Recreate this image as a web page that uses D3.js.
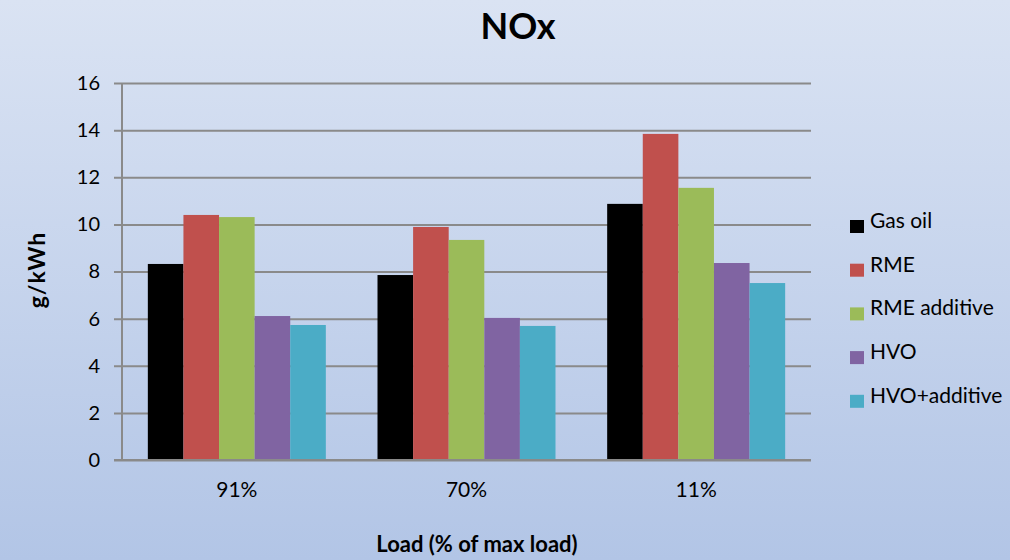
<!DOCTYPE html>
<html>
<head>
<meta charset="utf-8">
<script src="https://cdn.jsdelivr.net/npm/d3@7"></script>
<style>
  html, body { margin: 0; padding: 0; }
  body { width: 1010px; height: 560px; overflow: hidden; }
  text { font-family: Lato, "Open Sans", sans-serif; fill: #000; }
</style>
</head>
<body>
<svg id="chart" width="1010" height="560"></svg>
<script>
// Load levels (categories) and NOx emission per fuel, g/kWh
const loads = ["91%", "70%", "11%"];
const fuels = ["Gas oil", "RME", "RME additive", "HVO", "HVO+additive"];
const gasOil      = [8.32, 7.85, 10.87];
const rme         = [10.40, 9.89, 13.84];
const rmeAdditive = [10.31, 9.34, 11.55];
const hvo         = [6.11, 6.03, 8.36];
const hvoAdditive = [5.73, 5.69, 7.51];
const yTicks = [0, 2, 4, 6, 8, 10, 12, 14, 16];
const fuelColors = ["#000000", "#c0504d", "#9bbb59", "#8064a2", "#4bacc6"];

const seriesValues = [gasOil, rme, rmeAdditive, hvo, hvoAdditive];

const svg = d3.select("#chart");
const W = 1010, H = 560;

// Background gradient
const defs = svg.append("defs");
const grad = defs.append("linearGradient")
  .attr("id", "bg").attr("x1", 0).attr("y1", 0).attr("x2", 0).attr("y2", 1);
grad.append("stop").attr("offset", "0%").attr("stop-color", "#dae3f3");
grad.append("stop").attr("offset", "100%").attr("stop-color", "#b2c5e6");
svg.append("rect").attr("width", W).attr("height", H).attr("fill", "url(#bg)");

const plot = { left: 122, right: 811, top: 83, bottom: 460 };

const x0 = d3.scaleBand().domain(loads)
  .range([plot.left, plot.right]).paddingInner(0.225).paddingOuter(0.1125);
const x1 = d3.scaleBand().domain(fuels).range([0, x0.bandwidth()]);
const y = d3.scaleLinear().domain([0, 16]).range([plot.bottom, plot.top]);
const color = d3.scaleOrdinal().domain(fuels).range(fuelColors);

// Horizontal gridlines with short ticks left of the axis
const yAxis = d3.axisLeft(y).tickValues(yTicks)
  .tickSize(-(plot.right - plot.left)).tickPadding(22).tickFormat(d3.format("d"));
const gy = svg.append("g").attr("transform", `translate(${plot.left},0)`).call(yAxis);
gy.select(".domain").remove();
gy.selectAll(".tick line")
  .attr("x1", -8)
  .attr("stroke", "#8a8a8a").attr("stroke-width", 2);
gy.selectAll(".tick text")
  .attr("font-size", 20).attr("font-family", "Lato, sans-serif").attr("fill", "#000");

// Vertical axis line
svg.append("line")
  .attr("x1", plot.left).attr("x2", plot.left)
  .attr("y1", plot.top).attr("y2", plot.bottom)
  .attr("stroke", "#8a8a8a").attr("stroke-width", 2);

// Bars
const groups = svg.append("g").selectAll("g")
  .data(loads).join("g")
  .attr("transform", d => `translate(${x0(d)},0)`);

groups.selectAll("rect")
  .data((load, i) => fuels.map((f, k) => ({ fuel: f, value: seriesValues[k][i] })))
  .join("rect")
  .attr("x", d => x1(d.fuel))
  .attr("width", x1.bandwidth())
  .attr("y", d => y(d.value))
  .attr("height", d => y(0) - y(d.value))
  .attr("fill", d => color(d.fuel));

// Baseline drawn over the bars
svg.append("line")
  .attr("x1", plot.left - 8).attr("x2", plot.right)
  .attr("y1", y(0)).attr("y2", y(0))
  .attr("stroke", "#8a8a8a").attr("stroke-width", 2);

// X axis labels
const xAxis = d3.axisBottom(x0).tickSize(0).tickPadding(22);
const gx = svg.append("g").attr("transform", `translate(0,${plot.bottom})`).call(xAxis);
gx.select(".domain").remove();
gx.selectAll(".tick text")
  .attr("font-size", 21).attr("font-family", "Lato, sans-serif").attr("fill", "#000");

// Title
svg.append("text")
  .attr("x", 518).attr("y", 39)
  .attr("text-anchor", "middle")
  .attr("font-size", 36).attr("font-weight", "bold")
  .text("NOx");

// Axis titles
svg.append("text")
  .attr("transform", "translate(45,270) rotate(-90)")
  .attr("text-anchor", "middle")
  .attr("font-size", 23).attr("font-weight", "bold")
  .attr("letter-spacing", 1)
  .text("g/kWh");

svg.append("text")
  .attr("x", 477).attr("y", 552)
  .attr("text-anchor", "middle")
  .attr("font-size", 22).attr("font-weight", "bold")
  .text("Load (% of max load)");

// Legend
const legend = svg.append("g").attr("transform", "translate(850,220)");
const item = legend.selectAll("g").data(fuels).join("g")
  .attr("transform", (d, i) => `translate(0,${i * 43.7})`);
item.append("rect")
  .attr("width", 14).attr("height", 13)
  .attr("fill", d => color(d));
item.append("text")
  .attr("x", 20).attr("y", 8)
  .attr("font-size", 21)
  .text(d => d);
</script>
</body>
</html>
